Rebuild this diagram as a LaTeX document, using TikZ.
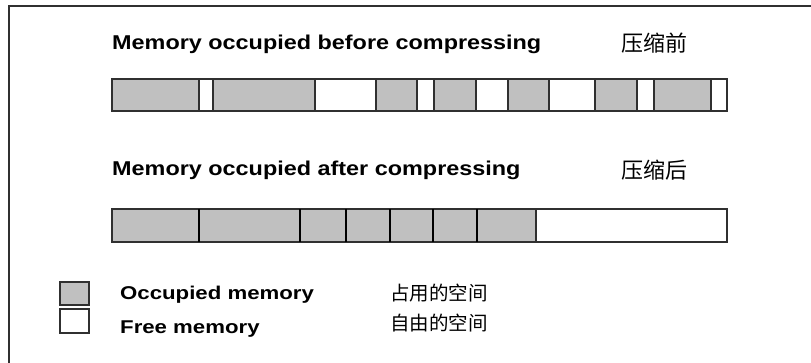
\documentclass[tikz,border=0pt]{standalone}
\usepackage{fontspec}
\newfontfamily\arialb{Liberation Sans}
\newfontfamily\cjk{Noto Sans CJK SC}
\definecolor{occgray}{HTML}{C0C0C0}
\definecolor{edge}{HTML}{303030}
\newcommand{\widetext}[2]{\scalebox{#1}[1]{#2}}
\begin{document}
\begin{tikzpicture}[x=1pt,y=-1pt,
  seg/.style={draw=edge,line width=1.4pt,inner sep=0pt,outer sep=0pt,rectangle},
  occ/.style={fill=occgray},
  free/.style={fill=white},
  segb/.style={seg,minimum height=33pt},
  segt/.style={seg,minimum height=32pt},
  title/.style={font=\arialb\bfseries\fontsize{20}{24}\selectfont,anchor=base west,inner sep=0pt},
  legtext/.style={font=\arialb\bfseries\fontsize{18.5}{22}\selectfont,anchor=base west,inner sep=0pt},
  cjkbig/.style={font=\cjk\fontsize{22}{26}\selectfont,anchor=west,inner sep=0pt},
  cjksmall/.style={font=\cjk\fontsize{19.5}{23}\selectfont,anchor=west,inner sep=0pt},
  frame/.style={draw=edge,line width=2pt}]
\useasboundingbox (0,0) rectangle (811,363);
\fill[white] (0,0) rectangle (811,363);
% frame
\coordinate (fl) at (9,363);
\coordinate (fc) at (9,6);
\coordinate (fr) at (811,6);
\draw[frame] (fl) -- (fc) -- (fr);
% titles
\node[title] (t1) at (112,50) {\widetext{1.17}{Memory occupied before compressing}};
\node[cjkbig] (c1) at (621,43) {压缩前};
\node[title] (t2) at (112,176) {\widetext{1.17}{Memory occupied after compressing}};
\node[cjkbig] (c2) at (621,170) {压缩后};
% top bar
\foreach \a/\b/\f [count=\i] in {112/199/occ,199/213/free,213/315/occ,315/376/free,376/417/occ,417/434/free,434/476/occ,476/508/free,508/549/occ,549/595/free,595/637/occ,637/654/free,654/711/occ,711/727/free}
  \node[segt,\f,minimum width={(\b-\a)*1pt}] (top\i) at ({(\a+\b)/2},95) {};
% bottom bar
\foreach \a/\b/\f [count=\i] in {112/199/occ,199/300/occ,300/346/occ,346/390/occ,390/433/occ,433/477/occ,477/536/occ,536/727/free}
  \node[segb,\f,minimum width={(\b-\a)*1pt}] (bot\i) at ({(\a+\b)/2},225.5) {};
\foreach \x in {199,300,346,390,433,477}
  \draw[black,line width=2.6pt] (\x,209) -- (\x,242);
% legend
\node[seg,occ,minimum width=29pt,minimum height=23pt] (lo) at (74.5,293.5) {};
\node[seg,free,minimum width=29pt,minimum height=24pt] (lf) at (74.5,321) {};
\node[legtext] (lot) at (120,299) {\widetext{1.2}{Occupied memory}};
\node[legtext] (lft) at (120,333) {\widetext{1.2}{Free memory}};
\node[cjksmall] (lc1) at (390,293) {占用的空间};
\node[cjksmall] (lc2) at (390,323) {自由的空间};
\end{tikzpicture}
\end{document}
